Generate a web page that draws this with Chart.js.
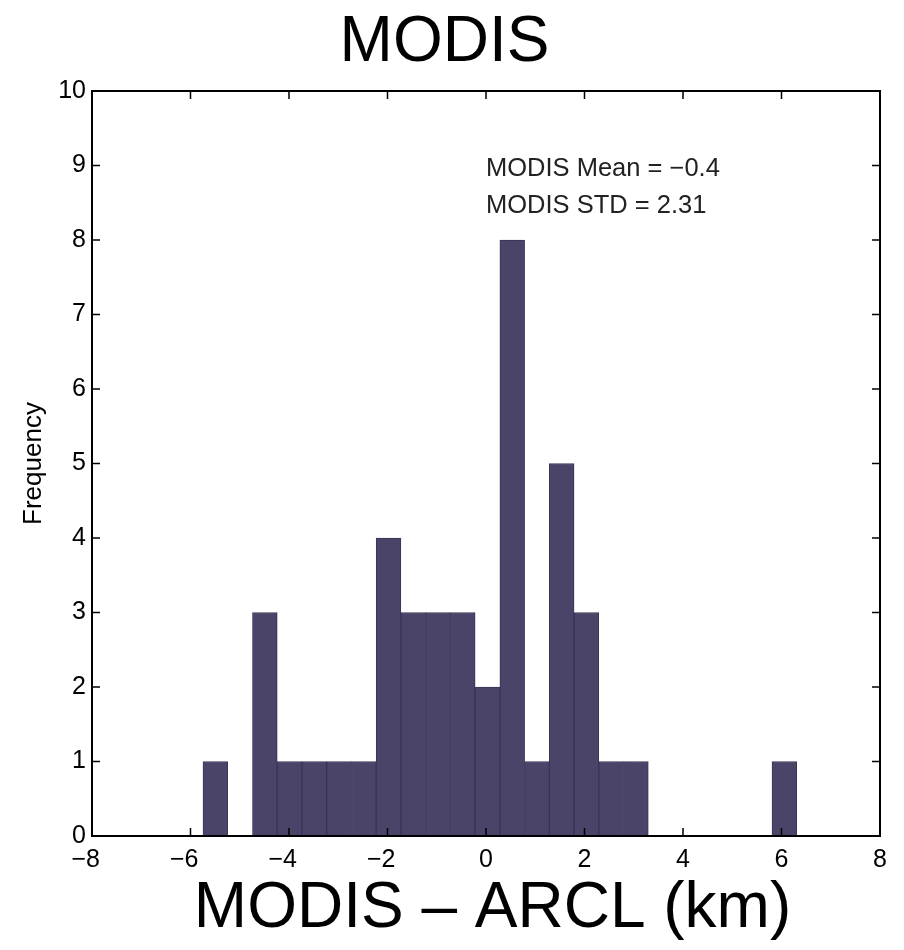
<!DOCTYPE html>
<html>
<head>
<meta charset="utf-8">
<title>MODIS</title>
<script src="https://cdn.jsdelivr.net/npm/chart.js@4.4.1/dist/chart.umd.min.js"></script>
<style>
  html, body { margin: 0; padding: 0; background: #fff; }
  #wrap { width: 904px; height: 950px; }
</style>
</head>
<body>
<div id="wrap"><canvas id="histChart" width="904" height="950"></canvas></div>
<script>
// histogram of MODIS - ARCL differences (km), 24 bins
const binCenters = [-5.495, -4.993, -4.490, -3.988, -3.486, -2.983, -2.481, -1.979,
                    -1.477, -0.974, -0.472, 0.030, 0.533, 1.035, 1.537, 2.040,
                    2.542, 3.044, 3.546, 4.049, 4.551, 5.053, 5.556, 6.058];
const binCounts = [1, 0, 3, 1, 1, 1, 1, 4,
                   3, 3, 3, 2, 8, 1, 5, 3,
                   1, 1, 0, 0, 0, 0, 0, 1];
const statLines = ['MODIS Mean = \u22120.4', 'MODIS STD = 2.31'];
const statAnchor = { x: 0, y: 8.96 };
const xLabel = 'MODIS \u2013 ARCL (km)';

const FONT = "'Liberation Sans', Arial, Helvetica, sans-serif";

// matlab puts the digit on the tick and lets the minus hang to the left
const fmtTick = (v) => (v < 0 ? '\u2212' + Math.abs(v) + '\u2002' : String(v));

// matlab style box with inward tick marks
const frameTicks = {
  id: 'frameTicks',
  afterDatasetsDraw(chart) {
    const { ctx, chartArea: a, scales: { x, y } } = chart;
    ctx.save();
    ctx.strokeStyle = '#000';
    ctx.lineWidth = 1.5;
    ctx.beginPath();
    x.ticks.forEach((t) => {
      const px = x.getPixelForValue(t.value);
      ctx.moveTo(px, a.bottom);
      ctx.lineTo(px, a.bottom - 8);
      ctx.moveTo(px, a.top);
      ctx.lineTo(px, a.top + 8);
    });
    y.ticks.forEach((t) => {
      const py = y.getPixelForValue(t.value);
      ctx.moveTo(a.left, py);
      ctx.lineTo(a.left + 8, py);
      ctx.moveTo(a.right, py);
      ctx.lineTo(a.right - 8, py);
    });
    ctx.stroke();
    ctx.lineWidth = 2;
    ctx.strokeRect(a.left, a.top, a.right - a.left, a.bottom - a.top);
    ctx.restore();
  },
};

const statsText = {
  id: 'statsText',
  afterDraw(chart) {
    const { ctx, chartArea: a, scales: { x, y } } = chart;
    const px = x.getPixelForValue(statAnchor.x);
    const py = y.getPixelForValue(statAnchor.y);
    ctx.save();
    ctx.fillStyle = '#222';
    ctx.font = '25.5px ' + FONT;
    ctx.textAlign = 'left';
    ctx.textBaseline = 'middle';
    statLines.forEach((line, i) => ctx.fillText(line, px, py + i * 37));

    // big x label, sits a little right of the axes centre
    ctx.fillStyle = '#000';
    ctx.font = '64px ' + FONT;
    ctx.textAlign = 'center';
    ctx.fillText(xLabel, (a.left + a.right) / 2 + 6.5, 909);
    ctx.restore();
  },
};

const histCanvas = document.getElementById('histChart');
new Chart(histCanvas.getContext('2d'), {
  type: 'bar',
  data: {
    datasets: [
      {
        label: 'Frequency',
        data: binCenters.map((c, i) => ({ x: c, y: binCounts[i] })),
        backgroundColor: '#4a4469',
        borderColor: '#3a3556',
        borderWidth: 1,
        barPercentage: 1,
        categoryPercentage: 1,
      },
    ],
  },
  options: {
    responsive: false,
    animation: false,
    layout: { padding: { left: 9, right: 24, top: 0, bottom: 0 } },
    plugins: {
      legend: { display: false },
      tooltip: { enabled: false },
      title: {
        display: true,
        text: 'MODIS',
        color: '#000',
        font: { family: FONT, size: 64, weight: 'normal', lineHeight: 1.2 },
        padding: { top: 5, bottom: 9.2 },
      },
    },
    scales: {
      x: {
        type: 'linear',
        min: -8,
        max: 8,
        offset: false,
        grid: { display: false, drawTicks: false, offset: false },
        border: { display: false },
        ticks: {
          stepSize: 2,
          color: '#000',
          padding: 9,
          maxRotation: 0,
          font: { family: FONT, size: 25 },
          callback: fmtTick,
        },
        afterFit(scale) { scale.height = 114; },
      },
      y: {
        min: 0,
        max: 10,
        grid: { display: false, drawTicks: false },
        border: { display: false },
        ticks: {
          stepSize: 1,
          color: '#000',
          padding: 6,
          font: { family: FONT, size: 25 },
        },
        title: {
          display: true,
          text: 'Frequency',
          color: '#000',
          font: { family: FONT, size: 26, lineHeight: 1.2 },
          padding: { top: 9, bottom: 0 },
        },
        afterFit(scale) { scale.width = 83; },
      },
    },
  },
  plugins: [frameTicks, statsText],
});
</script>
</body>
</html>
